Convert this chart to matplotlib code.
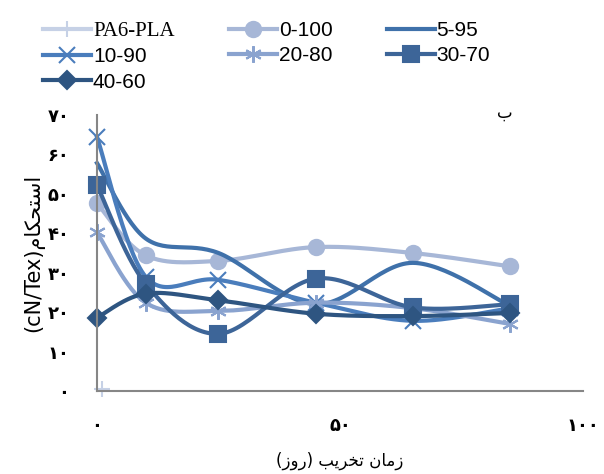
import numpy as np
import matplotlib
matplotlib.use("Agg")
import matplotlib.pyplot as plt

# --- datos ---
dias = [0, 10, 25, 45, 65, 85]
pa6_pla_x = [1]
pa6_pla_y = [0.5]
s_0_100 = [47.6, 34.4, 33.0, 36.5, 35.0, 31.6]
s_5_95 = [57.8, 38.7, 35.0, 22.0, 32.5, 21.6]
s_10_90 = [64.4, 29.0, 28.2, 22.4, 17.8, 21.0]
s_20_80 = [40.2, 22.4, 20.3, 22.4, 21.0, 17.0]
s_30_70 = [52.2, 27.2, 14.5, 28.5, 21.2, 22.0]
s_40_60 = [18.6, 24.7, 23.0, 19.6, 19.0, 19.8]

y_ticks = [0, 10, 20, 30, 40, 50, 60, 70]
x_ticks = [0, 50, 100]

PERSIAN = str.maketrans("0123456789", "۰۱۲۳۴۵۶۷۸۹")

# texto persa ya en orden visual (formas de presentación)
xlabel_fa = "(\uFEAF\uFEED\uFEAD) \uFE90\uFEF3\uFEAE\uFEA8\uFE97 \uFEE5\uFE8E\uFEE3\uFEAF"
ylabel_fa = "(cN/Tex)\uFEE1\uFE8E\uFB91\uFEA4\uFE98\uFEB3\uFE8D"
panel_fa = "\uFE8F"


def suavizar(x, y, n=30):
    """Curva tipo Excel (Catmull-Rom) en escala de pixeles"""
    sx, sy = 4.86, 3.93
    p = np.column_stack([np.array(x) * sx, np.array(y) * sy])
    pts = np.vstack([p[0], p, p[-1]])
    out = []
    for i in range(1, len(pts) - 2):
        p0, p1, p2, p3 = pts[i - 1], pts[i], pts[i + 1], pts[i + 2]
        c1 = p1 + (p2 - p0) / 6
        c2 = p2 - (p3 - p1) / 6
        t = np.linspace(0, 1, n, endpoint=False)[:, None]
        seg = ((1 - t) ** 3 * p1 + 3 * (1 - t) ** 2 * t * c1
               + 3 * (1 - t) * t ** 2 * c2 + t ** 3 * p2)
        out.append(seg)
    out.append(p[-1][None, :])
    c = np.vstack(out)
    return c[:, 0] / sx, c[:, 1] / sy, list(range(0, len(c), n))


fig = plt.figure(figsize=(6.04, 4.74), dpi=100)
ax = fig.add_axes([0.1606, 0.1751, 0.8046, 0.5823])

series = [
    ("0-100", s_0_100, "#a7b7d7", "o", 11),
    ("5-95", s_5_95, "#3f71aa", None, 0),
    ("10-90", s_10_90, "#4a7dbc", "x", 12),
    ("20-80", s_20_80, "#8aa3cf", (6, 2, 0), 12),
    ("30-70", s_30_70, "#3d6598", "s", 12),
    ("40-60", s_40_60, "#2e5581", "D", 9),
]

lineas = {}
lineas["PA6-PLA"], = ax.plot(pa6_pla_x, pa6_pla_y, color="#c6d1e6", lw=3,
                             marker="+", ms=12, mew=1.5, label="PA6-PLA",
                             clip_on=False)

for nombre, vals, col, mk, ms in series:
    xs, ys, idx = suavizar(dias, vals)
    lineas[nombre], = ax.plot(xs, ys, color=col, lw=3, marker=mk, ms=ms,
                              mew=1.5, markevery=idx, label=nombre,
                              clip_on=False)

ax.set_xlim(0, 100)
ax.set_ylim(0, 70)
ax.set_xticks(x_ticks)
ax.set_xticklabels([str(v).translate(PERSIAN) for v in x_ticks],
                   fontsize=13, fontweight="bold")
ax.set_yticks(y_ticks)
ax.set_yticklabels([str(v).translate(PERSIAN) for v in y_ticks],
                   fontsize=13, fontweight="bold")
ax.tick_params(length=0)
ax.tick_params(axis="x", pad=19)
ax.tick_params(axis="y", pad=20)
for s in ["top", "right"]:
    ax.spines[s].set_visible(False)
for s in ["left", "bottom"]:
    ax.spines[s].set_color("#868686")
    ax.spines[s].set_linewidth(1.5)

ax.set_xlabel(xlabel_fa, fontsize=12, labelpad=12)
ax.set_ylabel(ylabel_fa, fontsize=15, labelpad=2)
ax.text(84, 70.5, panel_fa, fontsize=12, ha="center", va="center")

# orden por columnas para que las filas queden como en el original
orden = ["PA6-PLA", "10-90", "40-60", "0-100", "20-80", "5-95", "30-70"]
leg = fig.legend([lineas[k] for k in orden], orden,
                 loc="upper left", bbox_to_anchor=(0.04, 0.995), ncol=3,
                 frameon=False, handlelength=2.3,
                 handletextpad=0.1, columnspacing=2.6, labelspacing=0.3,
                 numpoints=1, prop={"family": "Liberation Sans", "size": 15})
leg.get_texts()[0].set_family("Liberation Serif")

fig.savefig("out.png", dpi=100)
